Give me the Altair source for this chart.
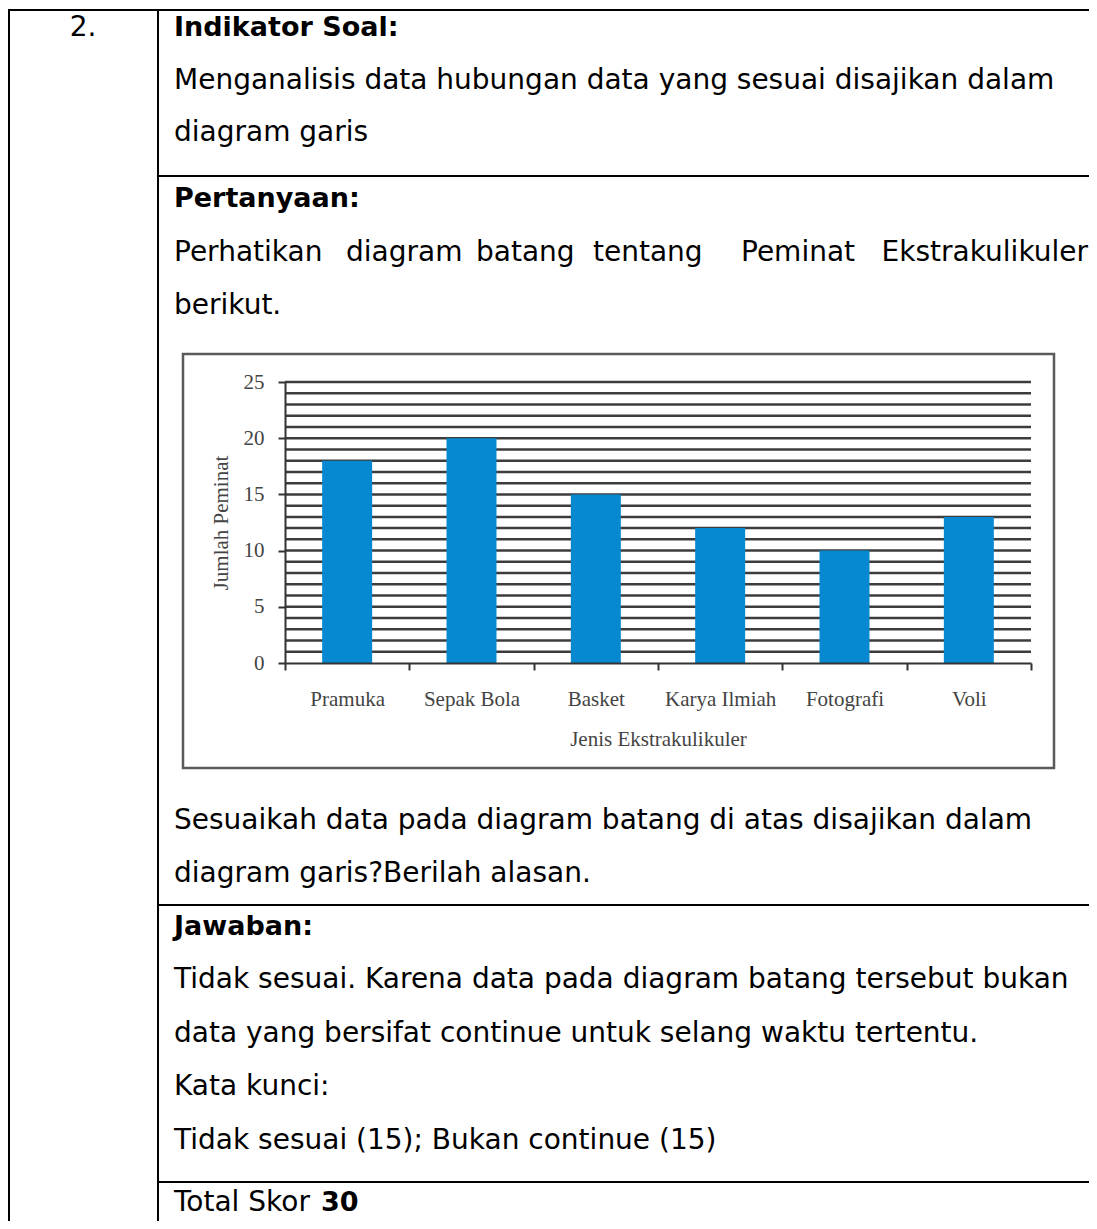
import altair as alt
import pandas as pd

# ---------------- data ----------------
categories = ["Pramuka", "Sepak Bola", "Basket", "Karya Ilmiah", "Fotografi", "Voli"]
counts = [18, 20, 15, 12, 10, 13]
y_ticks = [0, 5, 10, 15, 20, 25]
grid_levels = list(range(1, 26))

x_title = "Jenis Ekstrakulikuler"
y_title = "Jumlah Peminat"

row_number = "2."
heading_indikator = "Indikator Soal:"
indikator_lines = ["Menganalisis data hubungan data yang sesuai disajikan dalam",
                   "diagram garis"]
heading_pertanyaan = "Pertanyaan:"
pertanyaan_words = ["Perhatikan", "diagram", "batang", "tentang", "Peminat", "Ekstrakulikuler"]
pertanyaan_line2 = "berikut."
question_lines = ["Sesuaikah data pada diagram batang di atas disajikan dalam",
                  "diagram garis?Berilah alasan."]
heading_jawaban = "Jawaban:"
answer_lines = ["Tidak sesuai. Karena data pada diagram batang tersebut bukan",
                "data yang bersifat continue untuk selang waktu tertentu.",
                "Kata kunci:",
                "Tidak sesuai (15); Bukan continue (15)"]
total_label = "Total Skor"
total_value = "30"

# ---------------- layout ----------------
OX, OY = 7, 8          # page margin compensation
W, H = 1081, 1213
SANS = "DejaVu Sans"
SERIF = "Liberation Serif"
FS = 28
FSB = 27
BAR = "#0789D1"
GRID = "#3c3c3c"
AX = "#333333"
LBL = "#444444"


def px(x):
    return x - OX


def py(y):
    return y - OY


one = pd.DataFrame({"k": [0]})


def hline(x1, x2, y, color="black", w=2):
    return alt.Chart(one).mark_rule(color=color, strokeWidth=w).encode(
        x=alt.value(px(x1)), x2=alt.value(px(x2)), y=alt.value(py(y)))


def vline(x, y1, y2, color="black", w=2):
    return alt.Chart(one).mark_rule(color=color, strokeWidth=w).encode(
        x=alt.value(px(x)), y=alt.value(py(y1)), y2=alt.value(py(y2)))


def txt(s, x, y, bold=False, align="left"):
    return alt.Chart(pd.DataFrame({"t": [s]})).mark_text(
        align=align, baseline="alphabetic", font=SANS,
        fontSize=FSB if bold else FS, fontWeight="bold" if bold else "normal",
        color="black").encode(x=alt.value(px(x)), y=alt.value(py(y)), text="t:N")


layers = []
# table borders
layers.append(hline(7, 1100, 10))
layers.append(hline(157, 1100, 176))
layers.append(hline(157, 1100, 905))
layers.append(hline(157, 1100, 1182))
layers.append(vline(8, 9, 1229))
layers.append(vline(157, 9, 1229))

# texts
TX = 173
layers.append(txt(row_number, 82, 36, align="center"))
layers.append(txt(heading_indikator, TX, 36, bold=True))
layers.append(txt(indikator_lines[0], TX, 89))
layers.append(txt(indikator_lines[1], TX, 141))
layers.append(txt(heading_pertanyaan, TX, 207, bold=True))
word_x = [173, 345, 475, 592, 740]
for w_, x_ in zip(pertanyaan_words[:-1], word_x):
    layers.append(txt(w_, x_, 261))
layers.append(txt(pertanyaan_words[-1], 1087, 261, align="right"))
layers.append(txt(pertanyaan_line2, TX, 314))
layers.append(txt(question_lines[0], TX, 829))
layers.append(txt(question_lines[1], TX, 882))
layers.append(txt(heading_jawaban, TX, 935, bold=True))
for i, s in enumerate(answer_lines):
    layers.append(txt(s, TX, 988 + i * 53.5))
layers.append(txt(total_label, TX, 1211))
layers.append(txt(total_value, 320, 1211, bold=True))

# chart frame
layers.append(alt.Chart(one).mark_rect(fill="white", stroke="#5a5a5a", strokeWidth=2.5).encode(
    x=alt.value(px(182)), x2=alt.value(px(1053)), y=alt.value(py(354)), y2=alt.value(py(768))))

# ---------------- bar chart ----------------
x_axis = alt.Axis(orient="bottom", offset=py(663) - H, labelAngle=0, tickBand="extent",
                  domainColor=AX, domainWidth=2, tickColor=AX, tickWidth=2, tickSize=7,
                  labelFont=SERIF, labelFontSize=21, labelColor=LBL, labelPadding=35,
                  labelBaseline="alphabetic", titleFont=SERIF, titleFontSize=21,
                  titleFontWeight="normal", titleColor=LBL, titleY=82,
                  titleX=(px(284) + px(1030)) / 2, titleBaseline="alphabetic",
                  grid=False, zindex=1)
y_axis = alt.Axis(orient="left", offset=-px(284), values=y_ticks,
                  domainColor=AX, domainWidth=2, tickColor=AX, tickWidth=2, tickSize=7,
                  labelFont=SERIF, labelFontSize=21, labelColor=LBL, labelPadding=14,
                  titleFont=SERIF, titleFontSize=21, titleFontWeight="normal", titleColor=LBL,
                  titleX=220 - 284, titleY=(py(663) + py(382)) / 2, titleAngle=270,
                  titleBaseline="middle", titleAlign="center", grid=False, zindex=1)

x_enc = alt.X("Jenis:N", sort=categories, title=x_title, axis=x_axis,
              scale=alt.Scale(range=[px(284), px(1030)], paddingInner=0, paddingOuter=0))
y_enc = alt.Y("Jumlah:Q", title=y_title, axis=y_axis,
              scale=alt.Scale(domain=[0, 25], range=[py(663), py(382)], nice=False))

grid = alt.Chart(pd.DataFrame({"Jumlah": grid_levels})).mark_rule(color=GRID, strokeWidth=2.5).encode(
    y=y_enc, x=alt.value(px(284)), x2=alt.value(px(1030)))
bars = alt.Chart(pd.DataFrame({"Jenis": categories, "Jumlah": counts})).mark_bar(
    color=BAR, size=50).encode(x=x_enc, y=y_enc)

layers.append(grid)
layers.append(bars)

chart = alt.layer(*layers).properties(
    width=W, height=H, padding=0, autosize=alt.AutoSizeParams(type="none")
).configure_view(strokeWidth=0)

chart.save("out.html", embed_options={"renderer": "svg", "actions": False})
